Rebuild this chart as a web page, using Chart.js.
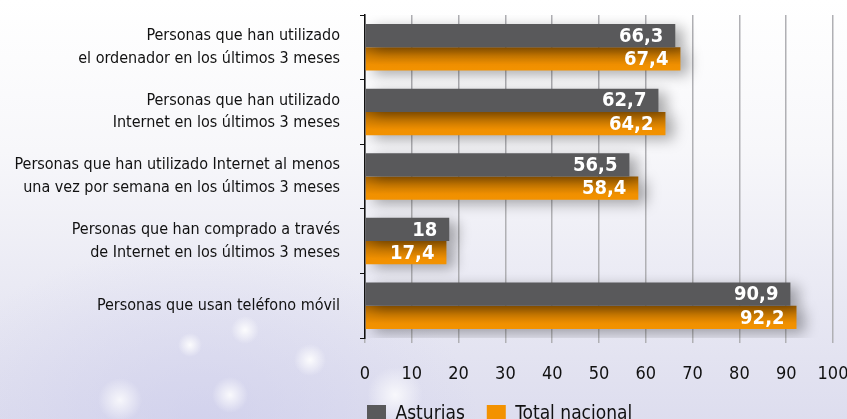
<!DOCTYPE html>
<html>
<head>
<meta charset="utf-8">
<script src="https://cdn.jsdelivr.net/npm/chart.js@4/dist/chart.umd.min.js"></script>
<style>
  html, body { margin: 0; padding: 0; overflow: hidden; width: 847px; height: 419px; }
  #wrap {
    position: relative; width: 847px; height: 434px;
    background:
      radial-gradient(circle at 190px 345px, rgba(255,255,255,0.9) 0, rgba(255,255,255,0) 12px),
      radial-gradient(circle at 245px 330px, rgba(255,255,255,0.9) 0, rgba(255,255,255,0) 14px),
      radial-gradient(circle at 310px 360px, rgba(255,255,255,0.9) 0, rgba(255,255,255,0) 16px),
      radial-gradient(circle at 230px 395px, rgba(255,255,255,0.85) 0, rgba(255,255,255,0) 18px),
      radial-gradient(circle at 120px 400px, rgba(255,255,255,0.8) 0, rgba(255,255,255,0) 22px),
      radial-gradient(circle at 395px 395px, rgba(255,255,255,0.8) 0, rgba(255,255,255,0) 28px),
      radial-gradient(ellipse at 200px 430px, rgba(200,200,235,0.55) 0, rgba(200,200,235,0) 280px),
      linear-gradient(to bottom, #ffffff 0%, #f7f7fa 35%, #e8e8f3 70%, #dcdcee 100%);
  }
  canvas { display: block; }
</style>
</head>
<body>
<div id="wrap"><canvas id="c" width="847" height="434"></canvas></div>
<script>
const categories = [
  ["Personas que han utilizado", "el ordenador en los últimos 3 meses"],
  ["Personas que han utilizado", "Internet en los últimos 3 meses"],
  ["Personas que han utilizado Internet al menos", "una vez por semana en los últimos 3 meses"],
  ["Personas que han comprado a través", "de Internet en los últimos 3 meses"],
  ["Personas que usan teléfono móvil"]
];
const seriesNames = ["Asturias", "Total nacional"];
const asturias = [66.3, 62.7, 56.5, 18, 90.9];
const totalNacional = [67.4, 64.2, 58.4, 17.4, 92.2];
const xTicks = [0, 10, 20, 30, 40, 50, 60, 70, 80, 90, 100];

const FONT = "'Liberation Sans Narrow', 'DejaVu Sans Condensed', 'Roboto Condensed', sans-serif";

function orangeFill(context) {
  const chart = context.chart;
  const y = chart.scales && chart.scales.y;
  if (!chart.chartArea || !y || context.dataIndex === undefined) return '#f39200';
  const c = y.getPixelForValue(context.dataIndex);
  const h = (chart.chartArea.bottom - chart.chartArea.top) / categories.length * 0.36;
  const g = chart.ctx.createLinearGradient(0, c, 0, c + h);
  g.addColorStop(0, '#a86400');
  g.addColorStop(0.35, '#cf7c00');
  g.addColorStop(0.75, '#f09000');
  g.addColorStop(1, '#f39200');
  return g;
}

const shadowPlugin = {
  id: 'barShadow',
  beforeDatasetsDraw(chart) {
    const ctx = chart.ctx;
    ctx.save();
    ctx.shadowColor = 'rgba(0,0,0,0.33)';
    ctx.shadowBlur = 14;
    ctx.shadowOffsetX = 8;
    ctx.shadowOffsetY = 4;
  },
  afterDatasetsDraw(chart) {
    chart.ctx.restore();
  }
};

const valueLabels = {
  id: 'valueLabels',
  afterDatasetsDraw(chart) {
    const ctx = chart.ctx;
    ctx.save();
    ctx.fillStyle = '#ffffff';
    ctx.font = 'bold 20px ' + FONT;
    ctx.textAlign = 'right';
    ctx.textBaseline = 'middle';
    chart.data.datasets.forEach((ds, di) => {
      const meta = chart.getDatasetMeta(di);
      meta.data.forEach((bar, i) => {
        const v = ds.data[i];
        const txt = String(v).replace('.', ',');
        ctx.fillText(txt, bar.x - 12, bar.y + 1);
      });
    });
    ctx.restore();
  }
};

const legendShift = {
  id: 'legendShift',
  afterLayout(chart) {
    const lg = chart.legend;
    if (lg) {
      const pad = lg.options.labels.padding;
      lg.left = 367 - pad;
    }
  }
};

new Chart(document.getElementById('c'), {
  type: 'bar',
  data: {
    labels: categories,
    datasets: [
      { label: seriesNames[0], data: asturias, backgroundColor: '#59595b', categoryPercentage: 0.72, barPercentage: 1.0 },
      { label: seriesNames[1], data: totalNacional, backgroundColor: orangeFill, categoryPercentage: 0.72, barPercentage: 1.0 }
    ]
  },
  options: {
    indexAxis: 'y',
    responsive: false,
    animation: false,
    layout: { padding: { top: 15, right: 14, left: 0, bottom: 0 } },
    plugins: {
      legend: {
        position: 'bottom',
        align: 'start',
        labels: {
          boxWidth: 19, boxHeight: 19, padding: 22,
          color: '#111',
          font: { family: FONT, size: 19 },
          generateLabels(chart) {
            return chart.data.datasets.map((ds, i) => ({
              text: ds.label,
              fillStyle: i === 0 ? '#59595b' : '#f39200',
              strokeStyle: 'rgba(0,0,0,0)',
              lineWidth: 0,
              hidden: false,
              datasetIndex: i,
              fontColor: '#111'
            }));
          }
        }
      },
      tooltip: { enabled: false }
    },
    scales: {
      x: {
        min: 0, max: 100,
        afterBuildTicks(scale) { scale.ticks = xTicks.map(v => ({ value: v })); },
        afterFit(scale) { scale.height = 45; scale.paddingLeft = 0; scale.paddingRight = 0; },
        border: { display: false },
        grid: { color: '#b0b0b4', lineWidth: 1.5, tickLength: 5, drawTicks: true },
        ticks: { color: '#111', font: { family: FONT, size: 18 }, padding: 21, maxRotation: 0 }
      },
      y: {
        afterFit(scale) { scale.width = 365; scale.paddingTop = 0; scale.paddingBottom = 0; },
        border: { display: true, color: '#111', width: 1.5 },
        grid: { drawOnChartArea: false, drawTicks: true, tickLength: 5, color: '#111', offset: true },
        ticks: { color: '#111', font: { family: FONT, size: 16, lineHeight: 1.42 }, padding: 20 }
      }
    }
  },
  plugins: [shadowPlugin, valueLabels, legendShift]
});
</script>
</body>
</html>
